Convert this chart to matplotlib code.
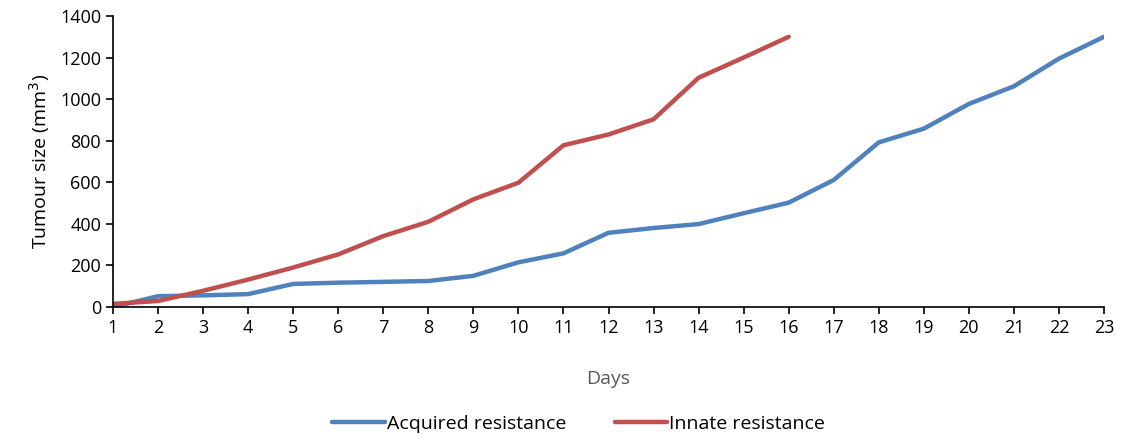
import matplotlib
matplotlib.use('Agg')
import matplotlib.pyplot as plt
import numpy as np

days = list(range(1, 24))
acquired = [0, 52, 56, 62, 111, 117, 121, 125, 150, 215, 258, 357, 380, 399, 451, 502,
            611, 792, 858, 977, 1062, 1195, 1300]
innate_days = list(range(1, 17))
innate = [15, 29, 78, 132, 190, 253, 341, 410, 518, 598, 778, 830, 903, 1103, 1200, 1300]

plt.rcParams['font.family'] = ['Open Sans', 'DejaVu Sans']

fig = plt.figure(figsize=(11.23, 4.4), dpi=100)
ax = fig.add_axes([113 / 1123, 1 - 307 / 440, (1104 - 113) / 1123, (307 - 16) / 440])

ax.plot(days, acquired, color='#4F81BD', lw=3.2, label='Acquired resistance',
        solid_capstyle='round', solid_joinstyle='round')
ax.plot(innate_days, innate, color='#C0504D', lw=3.2, label='Innate resistance',
        solid_capstyle='round', solid_joinstyle='round')

ax.set_xlim(1, 23)
ax.set_ylim(0, 1400)
ax.set_xticks(days)
ax.set_yticks(range(0, 1401, 200))
ax.tick_params(direction='out', length=5, width=1.2, labelsize=13, colors='black')
ax.spines['top'].set_visible(False)
ax.spines['right'].set_visible(False)
ax.spines['left'].set_linewidth(1.2)
ax.spines['bottom'].set_linewidth(1.2)

ax.set_xlabel('Days', fontsize=14, color='#595959', labelpad=24)
ax.set_ylabel('Tumour size (mm$^3$)', fontsize=14, labelpad=6)

ax.legend(loc='upper center', bbox_to_anchor=(0.47, -0.31), ncol=2, frameon=False,
          fontsize=14, handlelength=2.7, handletextpad=0.1, columnspacing=2.5)

fig.savefig('out.png', dpi=100)
